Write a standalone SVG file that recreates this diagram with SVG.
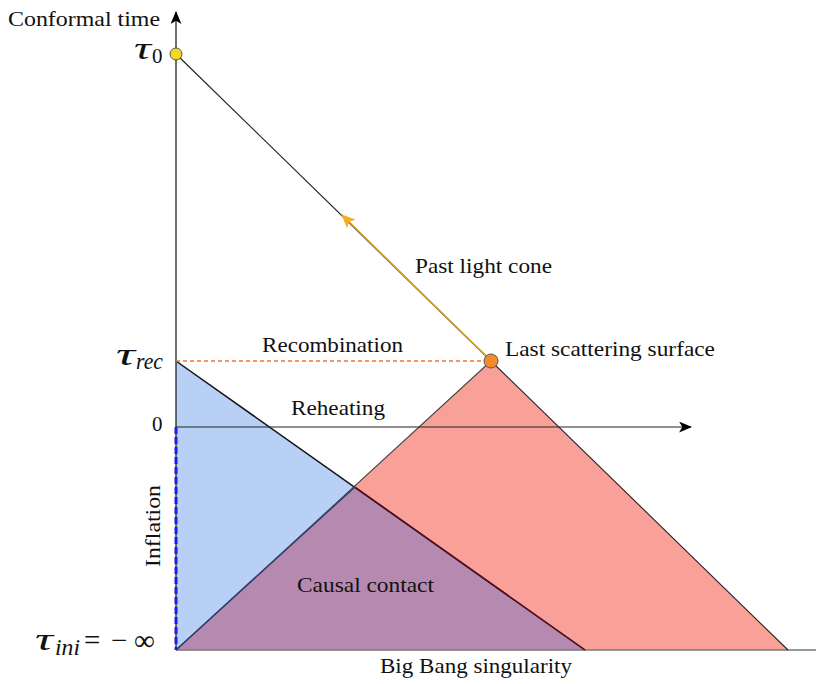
<svg xmlns="http://www.w3.org/2000/svg" width="816" height="684" viewBox="0 0 816 684">
<style>
text{font-family:"Liberation Serif","DejaVu Serif",serif;font-size:21px;fill:#111}
.m{font-style:italic;font-size:32px}
.s{font-style:italic;font-size:23px}
.n{font-style:normal}
</style>
<defs>
<marker id="ak" viewBox="0 0 12 10" refX="11" refY="5" markerWidth="13" markerHeight="11" markerUnits="userSpaceOnUse" orient="auto"><path d="M0,0 L12,5 L0,10 L3,5 Z" fill="#000"/></marker>
<marker id="ao" viewBox="0 0 14 12" refX="13" refY="6" markerWidth="14" markerHeight="12" markerUnits="userSpaceOnUse" orient="auto"><path d="M0,0 L14,6 L0,12 L3.5,6 Z" fill="#f2b01e"/></marker>
</defs>
<g id="regions">
<polygon id="blue" points="176,361 176,650 585,650" fill="#b8cff6"/>
<polygon id="red" points="176,650 491,361 788,650" fill="#f9a198"/>
<polygon id="overlap" points="176,650 355,487 585,650" fill="#b689b0"/>
</g>
<g id="connectors" fill="none">
<line x1="176" y1="650" x2="176" y2="12" stroke="#222" stroke-width="1.3" marker-end="url(#ak)"/>
<line x1="176" y1="650" x2="816" y2="650" stroke="#777" stroke-width="1.5"/>
<line x1="176" y1="54" x2="491" y2="361" stroke="#222" stroke-width="1.2"/>
<line x1="491" y1="361" x2="342" y2="215" stroke="#d9a020" stroke-width="1.6" marker-end="url(#ao)"/>
<line x1="176" y1="361" x2="585" y2="650" stroke="#111" stroke-width="1.5"/>
<line x1="176" y1="650" x2="491" y2="361" stroke="#444" stroke-width="1.1"/>
<line x1="491" y1="361" x2="788" y2="650" stroke="#222" stroke-width="1.1"/>
<line x1="355" y1="487" x2="585" y2="650" stroke="#5a1020" stroke-width="1.3"/>
<line x1="176" y1="650" x2="355" y2="487" stroke="#2a3a70" stroke-width="1.2"/>
<line x1="176" y1="361" x2="491" y2="361" stroke="#e87a30" stroke-width="1.6" stroke-dasharray="4,3"/>
<line x1="176" y1="427" x2="691" y2="427" stroke="#222" stroke-width="1.2" marker-end="url(#ak)"/>
<line x1="176" y1="427" x2="176" y2="650" stroke="#1a1aff" stroke-width="3" stroke-dasharray="7,3"/>
</g>
<g id="tau0"><circle cx="176" cy="54" r="6" fill="#f2d820" stroke="#555" stroke-width="1"/></g>
<g id="lss"><circle cx="491" cy="361" r="7" fill="#f58a2a" stroke="#555" stroke-width="1"/></g>
<g id="labels">
<text x="8" y="26" font-size="19" textLength="152" lengthAdjust="spacingAndGlyphs">Conformal time</text>
<text y="59" class="m"><tspan x="134" textLength="17" lengthAdjust="spacingAndGlyphs">τ</tspan><tspan class="n" font-size="21" x="152" dy="4">0</tspan></text>
<text y="365" class="m"><tspan x="116" textLength="19" lengthAdjust="spacingAndGlyphs">τ</tspan><tspan class="s" x="136" dy="4" textLength="27" lengthAdjust="spacingAndGlyphs">rec</tspan></text>
<text x="152" y="431" font-size="21">0</text>
<text y="650" class="m"><tspan x="35" textLength="18" lengthAdjust="spacingAndGlyphs">τ</tspan><tspan class="s" x="55" dy="5" textLength="25" lengthAdjust="spacingAndGlyphs">ini</tspan><tspan class="n" x="84" dy="-5" font-size="29">=</tspan><tspan class="n" x="111" font-size="29">−</tspan><tspan class="n" x="134" font-size="29">∞</tspan></text>
<text x="262" y="352" textLength="141" lengthAdjust="spacingAndGlyphs">Recombination</text>
<text x="505" y="356" textLength="210" lengthAdjust="spacingAndGlyphs">Last scattering surface</text>
<text x="415" y="273" textLength="137" lengthAdjust="spacingAndGlyphs">Past light cone</text>
<text x="291" y="415" textLength="94" lengthAdjust="spacingAndGlyphs">Reheating</text>
<text transform="translate(160,567) rotate(-90)" textLength="82" lengthAdjust="spacingAndGlyphs">Inflation</text>
<text x="297" y="592" textLength="137" lengthAdjust="spacingAndGlyphs">Causal contact</text>
<text x="380" y="673" textLength="192" lengthAdjust="spacingAndGlyphs">Big Bang singularity</text>
</g>
</svg>
